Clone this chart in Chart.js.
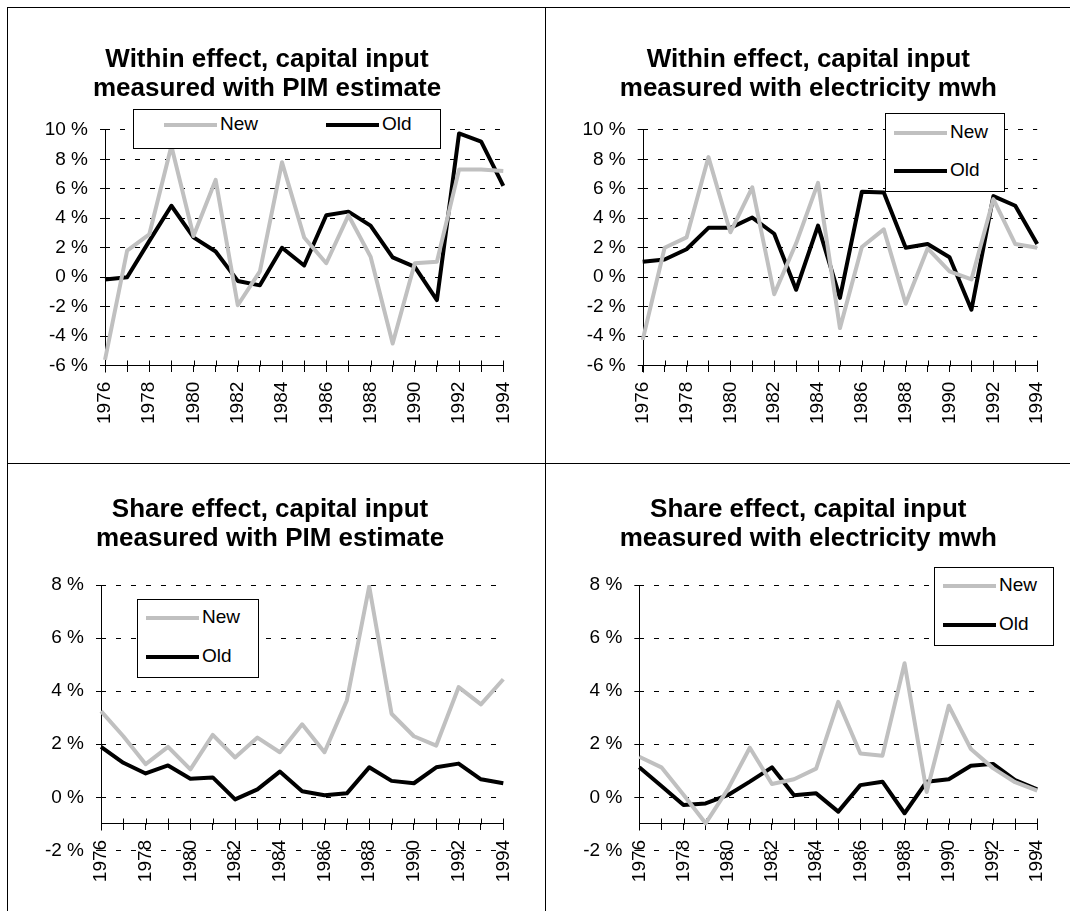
<!DOCTYPE html>
<html>
<head>
<meta charset="utf-8">
<title>Within and share effect, capital input</title>
<script src="https://cdn.jsdelivr.net/npm/chart.js@4.4.1/dist/chart.umd.min.js"></script>
<style>
  body { margin: 0; background: #fff; }
  #page { position: relative; width: 1070px; height: 911px; overflow: hidden; background: #fff;
          font-family: 'Liberation Sans', Arial, sans-serif; }
  canvas { position: absolute; }
  .rule { position: absolute; background: #000; }
  .legend { position: absolute; border: 1px solid #000; background: #fff; box-sizing: border-box; }
  .legend .ln { position: absolute; height: 4px; width: 53px; }
  .legend .tx { position: absolute; font-size: 19px; line-height: 22px; color: #000; white-space: nowrap; }
</style>
</head>
<body>
<div id="page">
  <canvas id="c1" width="545" height="463" style="left:0;top:0"></canvas>
  <canvas id="c2" width="525" height="463" style="left:545px;top:0"></canvas>
  <canvas id="c3" width="545" height="448" style="left:0;top:463px"></canvas>
  <canvas id="c4" width="525" height="448" style="left:545px;top:463px"></canvas>

  <div class="rule" style="left:7px;top:7px;width:1063px;height:1px"></div>
  <div class="rule" style="left:7px;top:7px;width:1px;height:904px"></div>
  <div class="rule" style="left:545px;top:7px;width:1px;height:904px"></div>
  <div class="rule" style="left:7px;top:463px;width:1063px;height:1px"></div>
</div>

<script>
var years = ['1976', '1977', '1978', '1979', '1980', '1981', '1982', '1983', '1984', '1985',
             '1986', '1987', '1988', '1989', '1990', '1991', '1992', '1993', '1994'];

// values in percent
var pimWithinNew = [-5.6, 1.8, 2.9, 8.9, 2.8, 6.6, -1.9, 0.4, 7.8, 2.7,
                    0.95, 4.2, 1.4, -4.5, 0.95, 1.05, 7.3, 7.3, 7.2];
var pimWithinOld = [-0.15, 0.0, 2.45, 4.85, 2.7, 1.75, -0.25, -0.55, 2.0, 0.8,
                    4.2, 4.45, 3.5, 1.35, 0.7, -1.55, 9.75, 9.2, 6.2];

var mwhWithinNew = [-4.25, 2.0, 2.7, 8.15, 3.05, 6.1, -1.15, 2.3, 6.4, -3.45,
                    2.05, 3.25, -1.8, 1.95, 0.4, -0.15, 5.3, 2.25, 2.0];
var mwhWithinOld = [1.05, 1.2, 1.9, 3.35, 3.35, 4.05, 2.95, -0.85, 3.5, -1.4,
                    5.8, 5.75, 2.0, 2.25, 1.35, -2.2, 5.5, 4.85, 2.25];

var pimShareNew = [3.25, 2.3, 1.25, 1.9, 1.05, 2.35, 1.5, 2.25, 1.7, 2.75,
                   1.7, 3.65, 7.95, 3.15, 2.3, 1.95, 4.15, 3.5, 4.45];
var pimShareOld = [1.9, 1.3, 0.9, 1.2, 0.7, 0.75, -0.08, 0.3, 0.97, 0.23,
                   0.08, 0.15, 1.13, 0.62, 0.53, 1.13, 1.27, 0.68, 0.53];

var mwhShareNew = [1.53, 1.13, 0.1, -0.98, 0.3, 1.87, 0.5, 0.68, 1.08, 3.6,
                   1.65, 1.57, 5.05, 0.2, 3.45, 1.82, 1.1, 0.57, 0.25];
var mwhShareOld = [1.13, 0.43, -0.29, -0.23, 0.08, 0.59, 1.13, 0.08, 0.15, -0.54,
                   0.46, 0.59, -0.6, 0.59, 0.68, 1.19, 1.26, 0.65, 0.3];

var withinTicks = [-6, 10];
var shareTicks = [-2, 8];
var seriesNames = ['New', 'Old'];

Chart.defaults.font.family = "'Liberation Sans', Arial, sans-serif";
Chart.defaults.color = '#000';

// excel style cross ticks on the category axis, and the value axis line
var axisMarks = {
  id: 'axisMarks',
  beforeDatasetsDraw: function(chart) {
    var ctx = chart.ctx;
    var xs = chart.scales.x, ys = chart.scales.y;
    var base = Math.round(ys.getPixelForValue(xs.options.position.y)) + 0.5;
    var left = Math.round(chart.chartArea.left) + 0.5;
    ctx.save();
    ctx.strokeStyle = '#000';
    ctx.lineWidth = 1;
    ctx.beginPath();
    for (var i = 0; i < xs.ticks.length; i++) {
      var px = Math.round(xs.getPixelForTick(i)) + 0.5;
      ctx.moveTo(px, base - 6);
      ctx.lineTo(px, base);
    }
    ctx.moveTo(left, chart.chartArea.top);
    ctx.lineTo(left, base + 6);
    ctx.stroke();
    ctx.restore();
  }
};

function drawPanel(id, p) {
  var ctx = document.getElementById(id).getContext('2d');
  return new Chart(ctx, {
    type: 'line',
    data: {
      labels: years,
      datasets: [{
        label: seriesNames[0],
        data: p.newData,
        borderColor: '#c0c0c0',
        borderWidth: 4,
        pointRadius: 0,
        tension: 0,
        borderJoinStyle: 'round'
      }, {
        label: seriesNames[1],
        data: p.oldData,
        borderColor: '#000',
        borderWidth: 4,
        pointRadius: 0,
        tension: 0,
        borderJoinStyle: 'round'
      }]
    },
    options: {
      responsive: false,
      animation: false,
      events: [],
      layout: { padding: { left: p.padLeft, right: p.padRight, top: 0, bottom: p.padBottom } },
      plugins: {
        legend: { display: false },
        tooltip: { enabled: false },
        title: {
          display: true,
          text: p.title,
          color: '#000',
          font: { size: 26, weight: 'bold', lineHeight: 29 / 26 },
          padding: p.titlePad
        }
      },
      scales: {
        x: {
          position: { y: p.axisAt },
          offset: false,
          grid: { drawOnChartArea: false, drawTicks: true, tickLength: 6, color: '#000' },
          border: { display: true, color: '#000', width: 1 },
          ticks: {
            autoSkip: false,
            minRotation: 90,
            maxRotation: 90,
            padding: 10,
            font: { size: 19 },
            callback: function(val, i) { return i % 2 === 0 ? this.getLabelForValue(val) : ''; }
          }
        },
        y: {
          min: p.range[0],
          max: p.range[1],
          grid: { color: '#000', lineWidth: 1, tickLength: 5 },
          border: { display: false, dash: [5, 10] },
          ticks: {
            stepSize: 2,
            padding: 12,
            font: { size: 19 },
            callback: function(v) { return v + ' %'; }
          },
          afterFit: function(scale) { scale.width = p.axisWidth; }
        }
      }
    },
    plugins: [axisMarks]
  });
}

function addLegend(box, items) {
  var page = document.getElementById('page');
  var div = document.createElement('div');
  div.className = 'legend';
  div.style.left = box[0] + 'px';
  div.style.top = box[1] + 'px';
  div.style.width = box[2] + 'px';
  div.style.height = box[3] + 'px';
  var colors = ['#c0c0c0', '#000'];
  items.forEach(function(it, i) {
    var ln = document.createElement('div');
    ln.className = 'ln';
    ln.style.background = colors[i];
    ln.style.left = it[0] + 'px';
    ln.style.top = (it[1] - 2) + 'px';
    div.appendChild(ln);
    var tx = document.createElement('div');
    tx.className = 'tx';
    tx.textContent = seriesNames[i];
    tx.style.left = (it[0] + 56) + 'px';
    tx.style.top = (it[1] - 12) + 'px';
    div.appendChild(tx);
  });
  page.appendChild(div);
}

drawPanel('c1', {
  title: ['Within effect, capital input', 'measured with PIM estimate'],
  newData: pimWithinNew, oldData: pimWithinOld,
  range: withinTicks, axisAt: withinTicks[0],
  padLeft: 30.7, axisWidth: 74.3, padRight: 41.7, padBottom: 97.3,
  titlePad: { top: 45.5, bottom: 26.3 }
});
drawPanel('c2', {
  title: ['Within effect, capital input', 'measured with electricity mwh'],
  newData: mwhWithinNew, oldData: mwhWithinOld,
  range: withinTicks, axisAt: withinTicks[0],
  padLeft: 30, axisWidth: 67.7, padRight: 28.3, padBottom: 97.3,
  titlePad: { top: 45.5, bottom: 26.3 }
});
drawPanel('c3', {
  title: ['Share effect, capital input', 'measured with PIM estimate'],
  newData: pimShareNew, oldData: pimShareOld,
  range: shareTicks, axisAt: -1,
  padLeft: 36.7, axisWidth: 64.3, padRight: 41.7, padBottom: 60.6,
  titlePad: { top: 32, bottom: 32 }
});
drawPanel('c4', {
  title: ['Share effect, capital input', 'measured with electricity mwh'],
  newData: mwhShareNew, oldData: mwhShareOld,
  range: shareTicks, axisAt: -1,
  padLeft: 29.9, axisWidth: 64.4, padRight: 28.3, padBottom: 60.6,
  titlePad: { top: 32, bottom: 32 }
});

addLegend([133, 109, 308, 40], [[30, 15], [192, 15]]);
addLegend([885, 113, 120, 79], [[8, 19], [8, 57]]);
addLegend([137, 599, 122, 79], [[8, 18], [8, 57]]);
addLegend([934, 567, 120, 79], [[8, 18], [8, 57]]);
</script>
</body>
</html>
